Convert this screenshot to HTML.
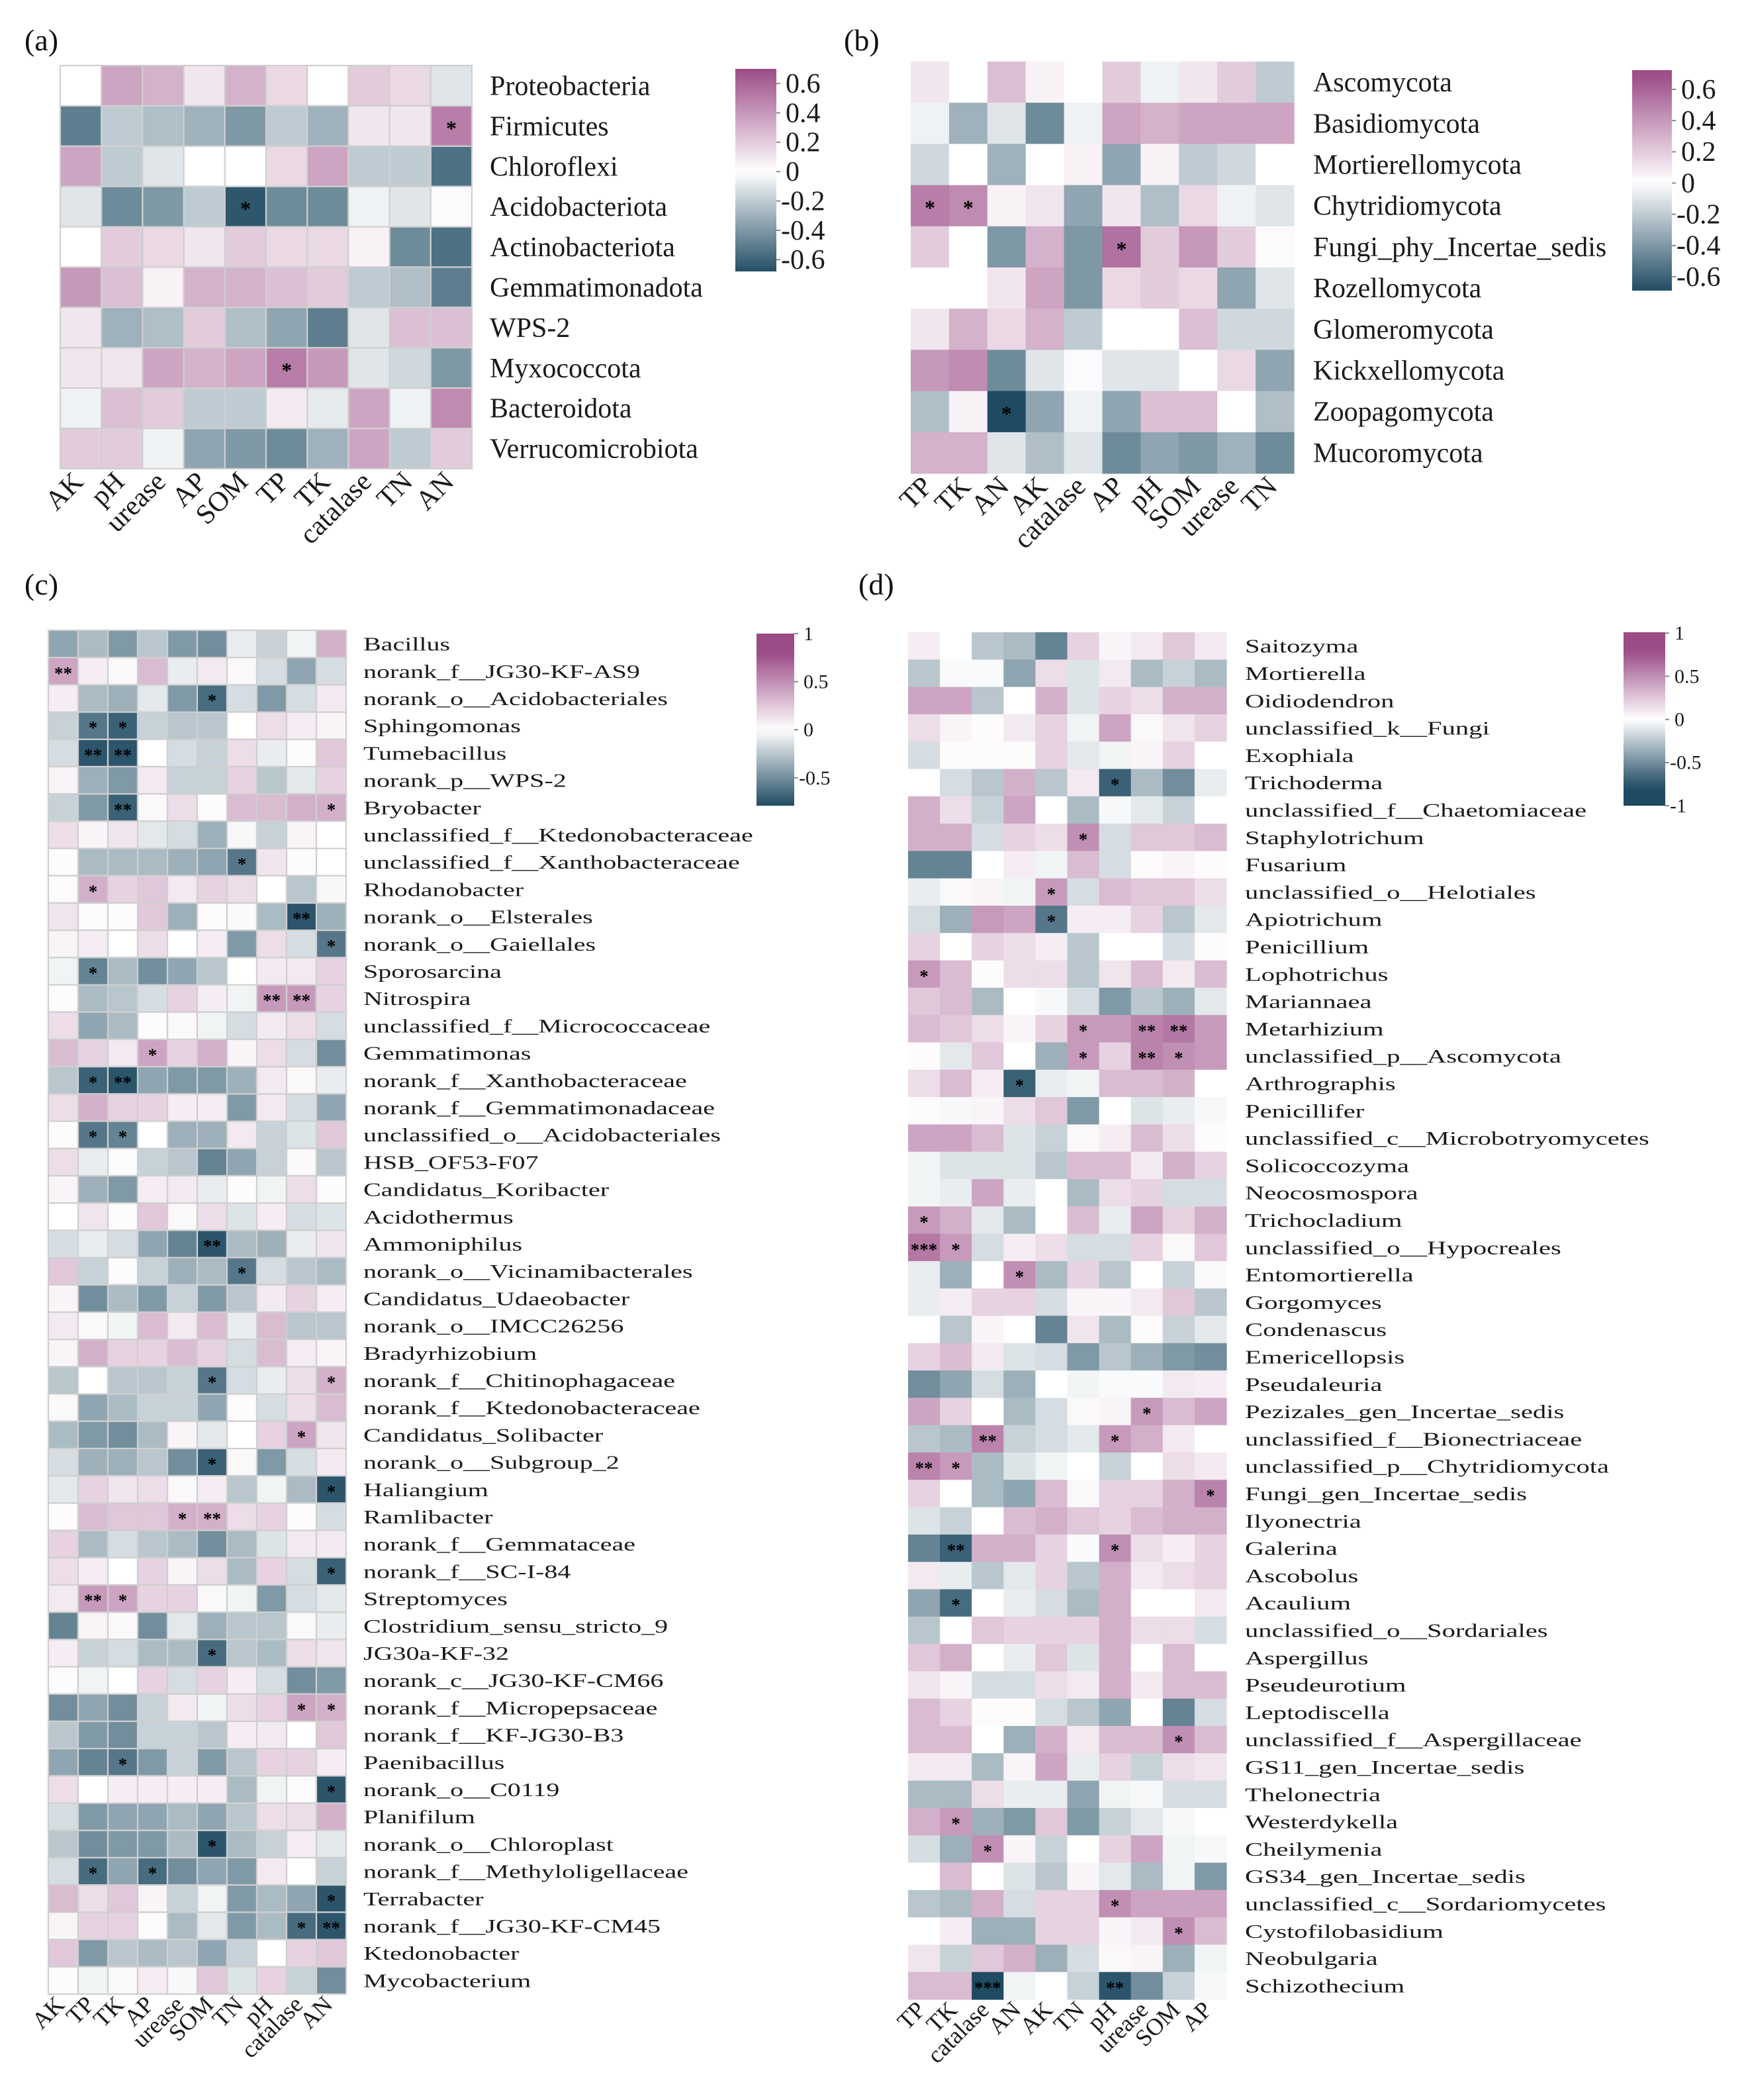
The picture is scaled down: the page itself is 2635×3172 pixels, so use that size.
<!DOCTYPE html>
<html><head><meta charset="utf-8"><style>html,body{margin:0;padding:0;background:#fff}svg{display:block}
svg text{font-family:"Liberation Serif","DejaVu Serif",serif;}
.star{font-weight:bold}</style></head>
<body>
<svg id="fig" xmlns="http://www.w3.org/2000/svg" width="2635" height="3172" viewBox="0 0 2635 3172">
<defs id="defs"></defs>
</svg>
<script>
// ---------- Panel (a) data ----------
const aRows=["Proteobacteria","Firmicutes","Chloroflexi","Acidobacteriota","Actinobacteriota","Gemmatimonadota","WPS-2","Myxococcota","Bacteroidota","Verrucomicrobiota"];
const aCols=["AK","pH","urease","AP","SOM","TP","TK","catalase","TN","AN"];
const aVals=[
[0,.35,.3,.1,.3,.15,0,.2,.15,-.1],
[-.5,-.2,-.25,-.3,-.4,-.2,-.3,.1,.1,.5],
[.35,-.2,-.1,0,0,.15,.35,-.2,-.2,-.55],
[-.1,-.45,-.4,-.2,-.65,-.45,-.45,-.05,-.1,.02],
[0,.2,.15,.1,.2,.15,.15,.05,-.45,-.55],
[.4,.25,.05,.3,.3,.25,.2,-.2,-.25,-.5],
[.1,-.3,-.25,.2,-.25,-.35,-.5,-.1,.25,.25],
[.1,.1,.35,.3,.35,.5,.4,-.1,-.15,-.4],
[-.05,.25,.2,-.2,-.2,.08,-.08,.35,-.05,.45],
[.2,.2,-.05,-.35,-.4,-.45,-.3,.35,-.2,.2]];
const aSig=[[1,9,"*"],[3,4,"*"],[7,5,"*"]];
const aTicks=[0.6,0.4,0.2,0,-0.2,-0.4,-0.6];

// ---------- Panel (b) data ----------
const bRows=["Ascomycota","Basidiomycota","Mortierellomycota","Chytridiomycota","Fungi_phy_Incertae_sedis","Rozellomycota","Glomeromycota","Kickxellomycota","Zoopagomycota","Mucoromycota"];
const bCols=["TP","TK","AN","AK","catalase","AP","pH","SOM","urease","TN"];
const bVals=[
[.1,0,.25,.05,0,.2,-.05,.1,.2,-.2],
[-.05,-.3,-.1,-.45,-.05,.35,.3,.35,.35,.35],
[-.15,0,-.3,0,.05,-.35,.05,-.2,-.15,0],
[.5,.45,.05,.1,-.35,.1,-.25,.15,-.05,-.1],
[.2,0,-.4,.3,-.4,.55,.2,.4,.2,.02],
[0,0,.1,.35,-.4,.15,.2,.15,-.35,-.1],
[.1,.3,.15,.3,-.2,0,0,.25,-.15,-.15],
[.4,.45,-.45,-.1,.02,-.1,-.1,0,.15,-.35],
[-.25,.05,-.7,-.35,-.05,-.35,.25,.25,0,-.25],
[.3,.3,-.1,-.25,-.1,-.45,-.35,-.4,-.3,-.45]];
const bSig=[[3,0,"*"],[3,1,"*"],[4,5,"*"],[8,2,"*"]];
const bTicks=[0.6,0.4,0.2,0,-0.2,-0.4,-0.6];

// ---------- Panel (c) data ----------
const cRows=["Bacillus","norank_f__JG30-KF-AS9","norank_o__Acidobacteriales","Sphingomonas","Tumebacillus","norank_p__WPS-2","Bryobacter","unclassified_f__Ktedonobacteraceae","unclassified_f__Xanthobacteraceae","Rhodanobacter","norank_o__Elsterales","norank_o__Gaiellales","Sporosarcina","Nitrospira","unclassified_f__Micrococcaceae","Gemmatimonas","norank_f__Xanthobacteraceae","norank_f__Gemmatimonadaceae","unclassified_o__Acidobacteriales","HSB_OF53-F07","Candidatus_Koribacter","Acidothermus","Ammoniphilus","norank_o__Vicinamibacterales","Candidatus_Udaeobacter","norank_o__IMCC26256","Bradyrhizobium","norank_f__Chitinophagaceae","norank_f__Ktedonobacteraceae","Candidatus_Solibacter","norank_o__Subgroup_2","Haliangium","Ramlibacter","norank_f__Gemmataceae","norank_f__SC-I-84","Streptomyces","Clostridium_sensu_stricto_9","JG30a-KF-32","norank_c__JG30-KF-CM66","norank_f__Micropepsaceae","norank_f__KF-JG30-B3","Paenibacillus","norank_o__C0119","Planifilum","norank_o__Chloroplast","norank_f__Methyloligellaceae","Terrabacter","norank_f__JG30-KF-CM45","Ktedonobacter","Mycobacterium"];
const cCols=["AK","TP","TK","AP","urease","SOM","TN","pH","catalase","AN"];
const cVals=[
[-.4,-.3,-.45,-.25,-.45,-.5,-.08,-.2,-.05,.35],
[.4,.08,.03,.3,-.08,.1,.03,-.15,-.4,-.15],
[.08,-.3,-.35,-.1,-.45,-.65,-.15,-.45,-.15,.1],
[-.2,-.6,-.7,-.2,-.25,-.25,0,.15,.08,.05],
[-.15,-.75,-.75,0,-.15,-.2,.15,-.08,.02,.25],
[.05,-.35,-.45,.1,-.2,-.2,.2,-.25,-.1,.2],
[-.2,-.45,-.7,.03,.15,.02,.3,.3,.35,.35],
[.15,.05,.12,-.1,-.15,-.35,-.03,-.2,.05,0],
[.02,-.3,-.3,-.3,-.35,-.4,-.6,.12,.02,0],
[.02,.35,.2,.25,.1,.2,.15,0,-.25,-.03],
[.12,.02,.02,.25,-.35,.02,-.02,-.3,-.75,-.35],
[.05,.08,0,.15,0,.08,-.45,.15,-.15,-.6],
[-.05,-.55,-.3,-.5,-.4,-.25,0,.1,.1,.2],
[.02,-.3,-.25,-.15,.2,.08,-.05,.45,.45,.2],
[.15,-.4,-.3,.02,.03,-.05,-.15,.1,.15,-.15],
[.3,.2,.1,.4,.2,.35,.05,.15,-.15,-.5],
[-.25,-.7,-.75,-.4,-.45,-.45,-.35,.1,.03,-.08],
[.15,.35,.2,.2,.08,.08,-.45,.1,-.15,-.4],
[.02,-.6,-.55,0,-.35,-.35,.1,-.2,-.12,.25],
[.15,-.08,.02,-.2,-.25,-.55,-.4,-.2,.03,-.25],
[.05,-.35,-.45,.08,.1,-.08,.02,-.05,.15,.02],
[0,.12,.02,.25,.03,.15,-.12,.08,-.15,-.12],
[-.15,-.08,-.15,-.4,-.55,-.75,-.3,-.35,-.08,.12],
[.25,-.2,.02,-.2,-.35,-.3,-.6,-.15,-.25,-.3],
[.05,-.5,-.3,-.45,-.2,-.45,-.25,.1,.2,.08],
[.1,.03,-.05,.3,.1,.3,-.08,.3,-.25,-.25],
[.05,.35,.2,.2,.3,.2,-.15,.3,.08,.05],
[-.25,0,-.25,-.25,-.2,-.6,-.15,-.08,.15,.35],
[.03,-.4,-.3,-.2,-.2,-.4,.02,-.15,.15,.3],
[-.3,-.45,-.5,-.3,.05,-.1,0,.2,.4,.12],
[-.15,-.35,-.35,-.25,-.5,-.7,.03,-.45,-.15,.1],
[-.1,.2,.12,.15,.03,.08,-.25,-.05,-.3,-.75],
[.02,.3,.25,.25,.35,.35,.15,.2,.02,-.15],
[.2,-.3,-.15,-.25,-.3,-.5,-.3,-.12,.1,.1],
[.15,.08,0,.2,.05,.15,-.3,.2,-.15,-.7],
[.1,.45,.4,.2,.2,.03,-.05,-.45,-.15,-.1],
[-.55,.05,.03,-.5,-.1,-.35,-.25,-.25,.03,-.08],
[.08,-.2,-.15,-.3,-.3,-.65,-.25,-.3,.15,.12],
[.02,-.05,0,.2,-.15,.2,.08,-.15,-.5,-.45],
[-.5,-.4,-.5,-.2,.1,-.05,.15,.2,.4,.35],
[-.25,-.45,-.5,-.2,-.2,-.25,.08,.1,0,.25],
[-.4,-.55,-.6,-.45,-.2,-.45,-.25,.2,.2,.08],
[.15,0,.08,.08,.08,.08,-.3,-.05,.02,-.75],
[-.15,-.45,-.4,-.4,-.3,-.4,-.25,.15,.15,.35],
[-.25,-.5,-.45,-.45,-.3,-.75,-.3,-.2,.08,-.1],
[-.15,-.65,-.4,-.65,-.5,-.4,-.45,.1,0,-.2],
[.3,.15,.25,.05,-.2,-.05,-.45,-.3,-.4,-.75],
[.05,.2,.2,.02,-.3,-.1,-.45,-.3,-.65,-.75],
[.25,-.45,-.25,-.3,-.25,-.4,-.2,0,.2,.25],
[.02,-.05,.03,.08,-.03,.25,-.12,.2,-.2,-.5]];
const cSig=[[1,0,"**"],[2,5,"*"],[3,1,"*"],[3,2,"*"],[4,1,"**"],[4,2,"**"],[6,2,"**"],[6,9,"*"],[8,6,"*"],[9,1,"*"],[10,8,"**"],[11,9,"*"],[12,1,"*"],[13,7,"**"],[13,8,"**"],[15,3,"*"],[16,1,"*"],[16,2,"**"],[18,1,"*"],[18,2,"*"],[22,5,"**"],[23,6,"*"],[27,5,"*"],[27,9,"*"],[29,8,"*"],[30,5,"*"],[31,9,"*"],[32,4,"*"],[32,5,"**"],[34,9,"*"],[35,1,"**"],[35,2,"*"],[37,5,"*"],[39,8,"*"],[39,9,"*"],[41,2,"*"],[42,9,"*"],[44,5,"*"],[45,1,"*"],[45,3,"*"],[46,9,"*"],[47,8,"*"],[47,9,"**"]];
const cTicks=[1,0.5,0,-0.5];

// ---------- Panel (d) data ----------
const dRows=["Saitozyma","Mortierella","Oidiodendron","unclassified_k__Fungi","Exophiala","Trichoderma","unclassified_f__Chaetomiaceae","Staphylotrichum","Fusarium","unclassified_o__Helotiales","Apiotrichum","Penicillium","Lophotrichus","Mariannaea","Metarhizium","unclassified_p__Ascomycota","Arthrographis","Penicillifer","unclassified_c__Microbotryomycetes","Solicoccozyma","Neocosmospora","Trichocladium","unclassified_o__Hypocreales","Entomortierella","Gorgomyces","Condenascus","Emericellopsis","Pseudaleuria","Pezizales_gen_Incertae_sedis","unclassified_f__Bionectriaceae","unclassified_p__Chytridiomycota","Fungi_gen_Incertae_sedis","Ilyonectria","Galerina","Ascobolus","Acaulium","unclassified_o__Sordariales","Aspergillus","Pseudeurotium","Leptodiscella","unclassified_f__Aspergillaceae","GS11_gen_Incertae_sedis","Thelonectria","Westerdykella","Cheilymenia","GS34_gen_Incertae_sedis","unclassified_c__Sordariomycetes","Cystofilobasidium","Neobulgaria","Schizothecium"];
const dCols=["TP","TK","catalase","AN","AK","TN","pH","urease","SOM","AP"];
const dVals=[
[.08,0,-.25,-.3,-.55,.2,.05,.1,.25,.1],
[-.25,-.02,-.02,-.4,.15,-.12,.1,-.3,-.2,-.3],
[.4,.4,-.25,0,.35,-.12,.2,.15,.35,.35],
[.15,.05,.02,.1,.2,-.05,.4,.03,.12,.2],
[-.15,.02,.02,.02,.2,-.1,-.05,.05,.2,0],
[0,-.15,-.25,.35,-.25,.1,-.7,-.3,-.5,-.08],
[.35,.15,-.2,.4,0,-.3,-.03,-.1,-.2,0],
[.35,.35,-.15,.2,.15,.5,-.15,.25,.25,.3],
[-.55,-.55,0,.08,-.05,.3,-.15,.02,.05,.02],
[-.08,.03,.05,-.05,.45,-.15,.3,.25,.25,.15],
[-.15,-.35,.45,.4,-.6,.08,.08,.2,-.25,-.1],
[.2,0,.2,.15,.08,-.25,0,0,-.15,.02],
[.45,.3,.02,.15,.15,-.25,.12,.3,.1,.3],
[.25,.3,-.3,0,-.03,-.15,-.45,-.25,-.35,-.1],
[.3,.25,.15,.05,.2,.45,.45,.55,.6,.45],
[.02,-.1,.25,0,-.35,.45,.2,.55,.5,.45],
[.15,.3,.08,-.7,-.08,-.05,.3,.3,.35,0],
[.02,-.03,.05,.15,.25,-.45,0,-.12,-.08,-.03],
[.4,.4,.3,-.12,-.2,.03,.08,.3,.15,.02],
[-.05,-.12,-.12,-.12,-.25,.3,.3,.1,.35,.2],
[-.05,-.08,.4,-.08,0,-.3,.15,.2,-.15,-.15],
[.45,.35,-.1,-.3,0,.3,-.08,.4,.2,.35],
[.6,.45,-.15,.08,.15,-.15,-.15,.2,.03,.25],
[-.08,-.35,0,.5,-.3,.2,-.25,0,-.2,.03],
[-.08,.08,.2,.2,-.15,.05,.05,.1,.25,-.25],
[0,-.25,.05,0,-.55,.12,-.3,.02,-.2,-.1],
[.2,.3,.1,-.12,-.15,-.45,-.25,-.35,-.45,-.5],
[-.5,-.4,-.15,-.35,0,-.05,-.02,-.02,.1,.08],
[.4,.2,0,-.3,-.15,.03,.05,.45,.3,.4],
[-.25,-.3,.55,-.2,-.15,-.1,.45,.35,.1,0],
[.55,.45,-.3,-.12,-.05,0,-.2,0,.15,.1],
[.2,0,-.3,-.4,.3,.03,.2,.2,.35,.55],
[-.12,-.2,0,.3,.35,.25,.2,.3,.35,.35],
[-.55,-.7,.35,.35,.2,-.02,.5,.15,.08,.2],
[.1,-.08,-.25,-.1,.2,-.25,.35,.1,.15,.2],
[-.4,-.65,0,-.08,-.15,-.3,.35,0,0,.1],
[-.25,0,.25,.2,.2,.2,.35,.15,.15,-.15],
[.25,.35,0,-.08,.25,-.12,.35,0,.3,0],
[.12,.05,-.15,-.15,.15,.1,.35,.1,.3,.3],
[.3,.2,.02,.02,-.15,-.25,-.4,0,-.55,-.15],
[.3,.3,0,-.35,.35,.1,.3,.3,.5,.3],
[.1,.1,-.3,.05,.4,-.08,.2,-.2,.15,.12],
[-.3,-.3,.15,-.08,-.08,-.4,-.05,-.03,-.15,-.15],
[.35,.45,-.35,-.45,.25,-.45,-.2,-.1,-.03,0],
[-.15,-.35,.5,.05,-.2,0,.2,.4,-.05,-.03],
[0,.3,0,-.12,-.25,.05,-.1,-.3,-.05,-.45],
[-.25,-.3,.35,-.15,.2,.2,.5,.4,.4,.4],
[0,.08,-.35,-.35,.2,.2,.05,.1,.5,.3],
[.12,-.2,.25,.35,-.35,-.15,.03,.05,-.35,-.05],
[.3,.3,-.8,-.05,0,-.2,-.75,-.5,-.2,-.03]];
const dSig=[[5,6,"*"],[7,5,"*"],[9,4,"*"],[10,4,"*"],[12,0,"*"],[14,5,"*"],[14,7,"**"],[14,8,"**"],[15,5,"*"],[15,7,"**"],[15,8,"*"],[16,3,"*"],[21,0,"*"],[22,0,"***"],[22,1,"*"],[23,3,"*"],[28,7,"*"],[29,2,"**"],[29,6,"*"],[30,0,"**"],[30,1,"*"],[31,9,"*"],[33,1,"**"],[33,6,"*"],[35,1,"*"],[40,8,"*"],[43,1,"*"],[44,2,"*"],[46,6,"*"],[47,8,"*"],[49,2,"***"],[49,6,"**"]];
const dTicks=[1,0.5,0,-0.5,-1];

const NS="http://www.w3.org/2000/svg";
const svg=document.getElementById("fig");
const defs=document.getElementById("defs");
const POS=[155,75,134], NEG=[30,74,98];
function colorOf(v,vmax){
  const t=Math.min(1,Math.abs(v)/vmax);
  const e=v>=0?POS:NEG;
  const c=e.map(k=>Math.round(255+(k-255)*t));
  return "rgb("+c.join(",")+")";
}
function mk(tag,attrs,parent){
  const el=document.createElementNS(NS,tag);
  for(const k in attrs) el.setAttribute(k,attrs[k]);
  (parent||svg).appendChild(el);
  return el;
}

function panel(p){
  const g=mk("g",{});
  
  
  const nR=p.rows.length, nC=p.cols.length;
  const xOf=j=>p.gx+j*p.cw, yOf=i=>p.gy+i*p.ch;
  for(let i=0;i<nR;i++){
    for(let j=0;j<nC;j++){
      const r=mk("rect",{x:xOf(j),y:yOf(i),width:p.cw+(p.border?0:0.6),height:p.ch+(p.border?0:0.6),fill:colorOf(p.vals[i][j],p.vmax)},g);
      if(p.border){r.setAttribute("stroke","#cfcfcf");r.setAttribute("stroke-width","2.2");}
      
      
    }
  }
  p.sig.forEach(s=>{
    const t=mk("text",{x:xOf(s[1])+p.cw/2,y:yOf(s[0])+p.ch/2+p.starDy,"text-anchor":"middle","font-size":p.starSize,fill:"#000","class":"star"},g);
    t.textContent=s[2];
    
    
  });
  p.rows.forEach((name,i)=>{
    const t=mk("text",{transform:"translate("+p.lx+","+(yOf(i)+p.ch/2+p.ldy)+") scale("+p.sx+",1)","font-size":p.lfs,fill:"#1a1a1a"},g);
    t.textContent=name;
    
    
  });
  const by=p.gy+nR*p.ch;
  p.cols.forEach((name,j)=>{
    const t=mk("text",{transform:"translate("+(xOf(j)+p.cw/2+p.cxo)+","+(by+p.cyo)+") rotate(-45)","font-size":p.cfs,"text-anchor":"end",fill:"#1a1a1a"},g);
    t.textContent=name;
    
    
  });
  const cb=p.cb;
  const yv=v=>cb.y+(cb.top-v)/(cb.top-cb.bot)*cb.h;
  const grad=mk("linearGradient",{id:p.name+"-grad",x1:0,y1:0,x2:0,y2:1},defs);
  const n=24;
  for(let k=0;k<=n;k++){
    const v=cb.top-(cb.top-cb.bot)*k/n;
    mk("stop",{offset:(k/n*100)+"%","stop-color":colorOf(v,p.vmax)},grad);
  }
  const bar=mk("rect",{x:cb.x,y:cb.y,width:cb.w,height:cb.h,fill:"url(#"+p.name+"-grad)"},g);
  
  
  p.ticks.forEach(v=>{
    const y=yv(v);
    mk("line",{x1:cb.x+cb.w,x2:cb.x+cb.w+6,y1:y,y2:y,stroke:"#888","stroke-width":2},g);
    const t=mk("text",{x:cb.x+cb.w+(v<0?7:14),y:y+cb.fs*0.33,"font-size":cb.fs,fill:"#1a1a1a"},g);
    t.textContent=String(v);
    
    
  });
  const tag=mk("text",{x:p.tx,y:p.ty,"font-size":46,fill:"#111"},g);
  tag.textContent=p.tag;
  
  
}

panel({name:"panel-a",tag:"(a)",tx:37,ty:76,rows:aRows,cols:aCols,vals:aVals,sig:aSig,ticks:aTicks,vmax:0.7,
  gx:91,gy:99,cw:62.2,ch:60.9,border:true,starSize:32,starDy:14,
  lx:740,ldy:14,lfs:42,sx:1,cxo:6,cyo:22,cfs:42,
  cb:{x:1111,y:104,w:62,h:306,top:0.70,bot:-0.68,fs:42}});
panel({name:"panel-b",tag:"(b)",tx:1275,ty:76,rows:bRows,cols:bCols,vals:bVals,sig:bSig,ticks:bTicks,vmax:0.7,
  gx:1376,gy:93,cw:57.9,ch:62.2,border:false,starSize:32,starDy:14,
  lx:1984,ldy:14,lfs:42,sx:1,cxo:6,cyo:22,cfs:42,
  cb:{x:2466,y:106,w:60,h:333,top:0.723,bot:-0.689,fs:42}});
panel({name:"panel-c",tag:"(c)",tx:37,ty:898,rows:cRows,cols:cCols,vals:cVals,sig:cSig,ticks:cTicks,vmax:0.8,
  gx:73,gy:952,cw:45,ch:41.2,border:true,starSize:27,starDy:12,
  lx:549,ldy:10,lfs:29,sx:1.38,cxo:4,cyo:18,cfs:36,
  cb:{x:1143,y:957,w:57,h:260,top:1.0,bot:-0.79,fs:30}});
panel({name:"panel-d",tag:"(d)",tx:1297,ty:898,rows:dRows,cols:dCols,vals:dVals,sig:dSig,ticks:dTicks,vmax:0.8,
  gx:1372,gy:955,cw:48.1,ch:41.3,border:false,starSize:27,starDy:12,
  lx:1881,ldy:10,lfs:29,sx:1.4,cxo:4,cyo:18,cfs:36,
  cb:{x:2453,y:955,w:63,h:262,top:1.01,bot:-1.0,fs:30}});
</script>
</body></html>
